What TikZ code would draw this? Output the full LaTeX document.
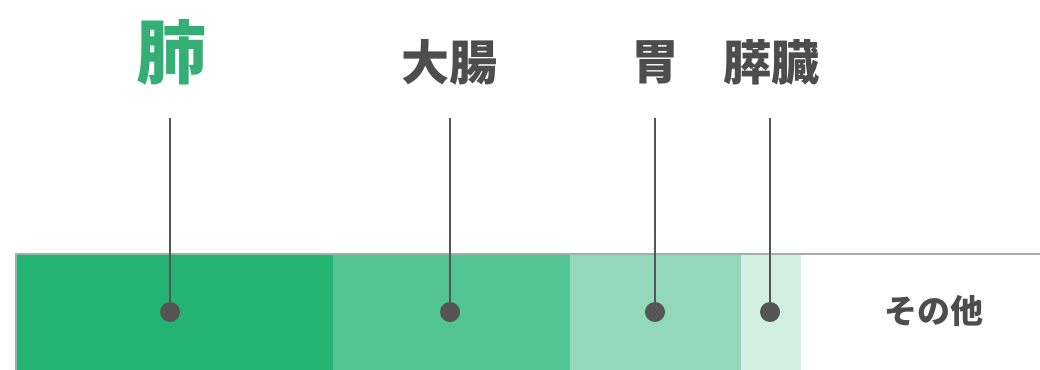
\documentclass[tikz,border=0pt]{standalone}
\usepackage{fontspec}
\newfontfamily\cjk{Noto Sans CJK JP}
\definecolor{lungfill}{HTML}{25B373}
\definecolor{colonfill}{HTML}{52C491}
\definecolor{stomachfill}{HTML}{93D9B9}
\definecolor{pancfill}{HTML}{D3EFE3}
\definecolor{textgray}{HTML}{4D4D4D}
\definecolor{linegray}{HTML}{555555}
\definecolor{framegray}{HTML}{AAAAAA}
\definecolor{lunggreen}{HTML}{33AE74}
\tikzset{
  organ/.style={inner sep=0pt,text=textgray,font=\cjk\bfseries\fontsize{48}{48}\selectfont},
  dot/.style={circle,fill=linegray,minimum size=20pt,inner sep=0pt},
  pointer/.style={linegray,line width=2pt}
}
\begin{document}
\begin{tikzpicture}[x=1pt,y=-1pt]
\useasboundingbox (0,0) rectangle (1040,369);
%bar
\fill[lungfill] (16,254) rectangle (333,372);
\fill[colonfill] (333,254) rectangle (570,372);
\fill[stomachfill] (570,254) rectangle (741,372);
\fill[pancfill] (741,254) rectangle (801,372);
\draw[framegray,line width=2pt] (16,372)--(16,254)--(1040,254);
%labels
\node[organ,text=lunggreen,font=\cjk\bfseries\fontsize{70}{70}\selectfont] (lung) at (171,52) {肺};
\node[organ] (colon) at (449,62) {大腸};
\node[organ] (stomach) at (655,62) {胃};
\node[organ] (pancreas) at (771,62) {膵臓};
\node[inner sep=0pt,text=textgray,font=\cjk\bfseries\fontsize{33}{33}\selectfont] (other) at (934,311) {その他};
%pointers
\coordinate (lung top) at (170,118);
\coordinate (colon top) at (450,118);
\coordinate (stomach top) at (655,118);
\coordinate (pancreas top) at (770,118);
\node[dot] (lung dot) at (170,312) {};
\node[dot] (colon dot) at (450,312) {};
\node[dot] (stomach dot) at (655,312) {};
\node[dot] (pancreas dot) at (770,312) {};
\draw[pointer] (lung top)--(lung dot);
\draw[pointer] (colon top)--(colon dot);
\draw[pointer] (stomach top)--(stomach dot);
\draw[pointer] (pancreas top)--(pancreas dot);
\end{tikzpicture}
\end{document}
